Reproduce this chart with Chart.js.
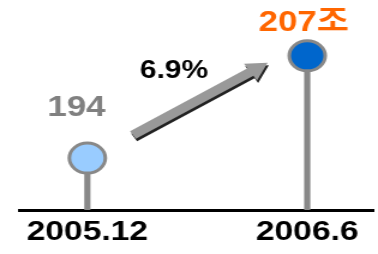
<!DOCTYPE html>
<html>
<head>
<meta charset="utf-8">
<script src="https://cdn.jsdelivr.net/npm/chart.js@4/dist/chart.umd.min.js"></script>
<style>
  html, body { margin: 0; padding: 0; background: #fff; overflow: hidden; }
  /* the original picture is stretched sideways, so draw narrow and widen */
  #wrap { width: 315px; height: 254px; transform: scaleX(1.2); transform-origin: 0 0; }
</style>
</head>
<body>
<div id="wrap"><canvas id="growthChart"></canvas></div>
<script>
// Data
const periods = ['2005.12', '2006.6'];
const amounts = [194, 207];
const valueLabels = ['194', '207조'];
const growthLabel = '6.9%';

const FONT = "'Liberation Sans', Arial, 'Noto Sans CJK KR', sans-serif";

const points = amounts.map((v, i) => ({ x: i, y: v }));

// Labels above the markers + growth arrow
const annotate = {
    id: 'annotate',
    afterDatasetsDraw(chart) {
        const ctx = chart.ctx;
        const meta = chart.getDatasetMeta(0);
        const p0 = meta.data[0], p1 = meta.data[1];

        ctx.save();
        ctx.textAlign = 'center';
        ctx.textBaseline = 'alphabetic';
        ctx.font = 'bold 29px ' + FONT;
        ctx.fillStyle = '#808080';
        ctx.fillText(valueLabels[0], p0.x - 9, p0.y - 42);
        ctx.fillStyle = '#ff6600';
        ctx.fillText(valueLabels[1], p1.x - 3, p1.y - 25);

        // arrow
        const sx = p0.x + 38, sy = p0.y - 23;
        const tx = p1.x - 33, ty = p1.y + 7;
        const ang = Math.atan2(ty - sy, tx - sx);
        const len = Math.hypot(tx - sx, ty - sy);
        const shaft = 4.5, head = 10, headLen = 17;
        const shape = [
            [0, -shaft], [len - headLen, -shaft], [len - headLen, -head],
            [len, 0], [len - headLen, head], [len - headLen, shaft], [0, shaft]
        ];
        function drawArrow(ox, oy, color) {
            ctx.beginPath();
            shape.forEach(([a, b], i) => {
                const x = sx + ox + a * Math.cos(ang) - b * Math.sin(ang);
                const y = sy + oy + a * Math.sin(ang) + b * Math.cos(ang);
                if (i === 0) ctx.moveTo(x, y); else ctx.lineTo(x, y);
            });
            ctx.closePath();
            ctx.fillStyle = color;
            ctx.fill();
        }
        drawArrow(1, 2.5, '#222');
        drawArrow(0, 0, '#999');

        ctx.fillStyle = '#000';
        ctx.font = 'bold 25px ' + FONT;
        ctx.fillText(growthLabel, 145, 78);
        ctx.restore();
    }
};

new Chart(document.getElementById('growthChart').getContext('2d'), {
    type: 'bar',
    data: {
        datasets: [
            {
                type: 'scatter',
                data: points,
                pointRadius: 15,
                pointHoverRadius: 15,
                pointBorderWidth: 3,
                pointBorderColor: '#888888',
                pointBackgroundColor: ['#99ccff', '#0066cc'],
                clip: false,
                order: 0
            },
            {
                type: 'bar',
                data: points,
                backgroundColor: '#888888',
                barThickness: 4.5,
                order: 1
            }
        ]
    },
    options: {
        responsive: true,
        maintainAspectRatio: false,
        animation: false,
        layout: { autoPadding: false, padding: { left: 16, right: 4, top: 0, bottom: 0 } },
        plugins: { legend: { display: false }, tooltip: { enabled: false } },
        scales: {
            x: {
                type: 'linear',
                offset: false,
                min: -0.31,
                max: 1.30,
                grid: { display: false, drawTicks: false, tickLength: 0 },
                border: { display: true, color: '#000', width: 3 },
                afterBuildTicks: (s) => { s.ticks = periods.map((_, i) => ({ value: i })); },
                afterFit: (s) => { s.height = 44; },
                ticks: {
                    padding: 5,
                    color: '#000',
                    font: { family: FONT, size: 28, weight: 'bold' },
                    callback: (v) => periods[v]
                }
            },
            y: {
                display: false,
                min: 187.4,
                max: 214.1
            }
        }
    },
    plugins: [annotate]
});
</script>
</body>
</html>
